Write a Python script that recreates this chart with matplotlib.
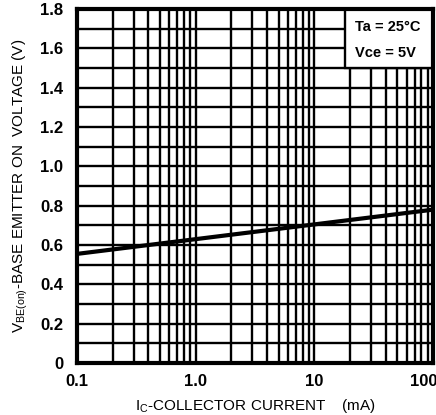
import matplotlib
matplotlib.use("Agg")
import matplotlib.pyplot as plt
import matplotlib.transforms as mtransforms
import numpy as np
from matplotlib.patches import Rectangle

# Data
ic_ma = [0.1, 1.0, 10.0, 100.0]
vbe_on = [0.555, 0.63, 0.705, 0.78]
x_ticks = [0.1, 1.0, 10, 100]
x_ticklabels = ["0.1", "1.0", "10", "100"]
y_ticks = [0, 0.2, 0.4, 0.6, 0.8, 1.0, 1.2, 1.4, 1.6, 1.8]
y_ticklabels = ["0", "0.2", "0.4", "0.6", "0.8", "1.0", "1.2", "1.4", "1.6", "1.8"]

FONT = ["Liberation Sans", "DejaVu Sans"]
plt.rcParams['font.family'] = FONT

fig = plt.figure(figsize=(4.36, 4.15), dpi=100)
ax = fig.add_axes([0.1766, 0.1253, 0.8164, 0.8527])
ax.set_xscale("log")
ax.set_xlim(0.1, 100)
ax.set_ylim(0, 1.8)

# grid
minor_x = [m * 10.0**d for d in range(-1, 2) for m in range(1, 10)]
for xv in minor_x:
    ax.axvline(xv, color="black", lw=1.7, zorder=1)
for yv in np.arange(0.1, 1.8, 0.1):
    ax.axhline(yv, color="black", lw=1.7, zorder=1)

ax.plot(ic_ma, vbe_on, color="black", lw=3.0, zorder=3)

# legend box
ax.add_patch(Rectangle((18.0, 1.5), 100 - 18.0, 0.3, facecolor="white",
                       edgecolor="black", lw=1.7, zorder=4))
ax.text(0.78, 0.968, "Ta = 25°C", transform=ax.transAxes,
        ha="left", va="top", fontsize=10.5, fontweight="bold", zorder=5)
ax.text(0.78, 0.895, "Vce = 5V", transform=ax.transAxes,
        ha="left", va="top", fontsize=10.5, fontweight="bold", zorder=5)

for s in ax.spines.values():
    s.set_linewidth(3)
    s.set_zorder(6)

ax.set_xticks(x_ticks)
ax.set_xticklabels(x_ticklabels)
ax.set_xticks([], minor=True)
ax.set_yticks(y_ticks)
ax.set_yticklabels(y_ticklabels)
ax.tick_params(length=0, labelsize=12, pad=8)
ax.tick_params(axis="y", pad=10)
for lab in ax.get_xticklabels() + ax.get_yticklabels():
    lab.set_fontweight("bold")
xl = ax.get_xticklabels()
xl[-1].set_horizontalalignment("right")
xl[-1].set_transform(ax.get_xaxis_transform()
                     + mtransforms.ScaledTranslation(3 / 72, -8 / 72, fig.dpi_scale_trans))

ax.set_xlabel(r"I$_\mathregular{C}$-COLLECTOR CURRENT    (mA)", fontsize=11, labelpad=6)
ax.set_ylabel(r"V$_\mathregular{BE(on)}$-BASE EMITTER ON  VOLTAGE (V)", fontsize=11, labelpad=7)

fig.savefig("out.png", dpi=100)
